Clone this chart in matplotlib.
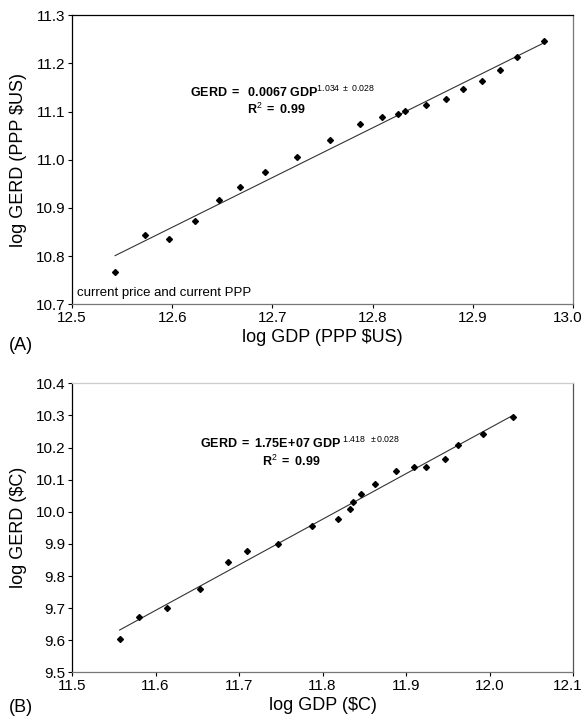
import numpy as np
import matplotlib
matplotlib.use("Agg")
import matplotlib.pyplot as plt
from matplotlib.transforms import ScaledTranslation

plt.rcParams['font.family'] = ['Liberation Sans', 'DejaVu Sans']
plt.rcParams['mathtext.fontset'] = 'custom'
plt.rcParams['mathtext.rm'] = 'Liberation Sans'
plt.rcParams['mathtext.bf'] = 'Liberation Sans:bold'
plt.rcParams['mathtext.it'] = 'Liberation Sans:italic'

# Panel A data: log GDP (PPP $US) vs log GERD (PPP $US)
gdp_a = [12.543, 12.573, 12.597, 12.623, 12.647, 12.668, 12.693, 12.725, 12.757, 12.787,
         12.809, 12.825, 12.832, 12.853, 12.873, 12.890, 12.909, 12.927, 12.944, 12.971]
gerd_a = [10.766, 10.844, 10.835, 10.872, 10.917, 10.943, 10.975, 11.006, 11.041, 11.075,
          11.089, 11.095, 11.102, 11.113, 11.127, 11.146, 11.163, 11.186, 11.213, 11.246]

# Panel B data: log GDP ($C) vs log GERD ($C)
gdp_b = [11.557, 11.580, 11.614, 11.653, 11.687, 11.710, 11.747, 11.788, 11.818, 11.833,
         11.837, 11.846, 11.863, 11.888, 11.909, 11.924, 11.947, 11.962, 11.992, 12.028]
gerd_b = [9.604, 9.673, 9.701, 9.760, 9.844, 9.877, 9.899, 9.957, 9.979, 10.010,
          10.032, 10.054, 10.087, 10.126, 10.139, 10.141, 10.165, 10.207, 10.243, 10.295]

xticks_a = [12.5, 12.6, 12.7, 12.8, 12.9, 13.0]
yticks_a = [10.7, 10.8, 10.9, 11.0, 11.1, 11.2, 11.3]
xticks_b = [11.5, 11.6, 11.7, 11.8, 11.9, 12.0, 12.1]
yticks_b = [9.5, 9.6, 9.7, 9.8, 9.9, 10.0, 10.1, 10.2, 10.3, 10.4]

fig = plt.figure(figsize=(5.85, 7.18), dpi=100)
axA = fig.add_axes([0.1231, 0.5762, 0.8564, 0.4025])
axB = fig.add_axes([0.1231, 0.0636, 0.8564, 0.4025])


def draw(ax, x, y, xt, yt, xlabel, ylabel):
    x = np.array(x); y = np.array(y)
    m, c = np.polyfit(x, y, 1)
    xs = np.array([x.min(), x.max()])
    ax.plot(xs, m * xs + c, color='#333333', lw=0.8)
    ax.plot(x, y, linestyle='none', marker='D', markersize=3, color='black')
    ax.set_xlim(xt[0], xt[-1])
    ax.set_ylim(yt[0], yt[-1])
    ax.set_xticks(xt)
    ax.set_yticks(yt)
    ax.set_xticklabels([f"{v:.1f}" for v in xt])
    ax.set_yticklabels([f"{v:.1f}" for v in yt])
    ax.tick_params(direction='out', length=3, width=0.8, labelsize=11, pad=2)
    ax.set_xlabel(xlabel, fontsize=13, labelpad=3)
    ax.set_ylabel(ylabel, fontsize=13, labelpad=6)
    last = ax.get_xticklabels()[-1]
    last.set_transform(last.get_transform() + ScaledTranslation(-0.05, 0, fig.dpi_scale_trans))


draw(axA, gdp_a, gerd_a, xticks_a, yticks_a, 'log GDP (PPP $US)', 'log GERD (PPP $US)')
draw(axB, gdp_b, gerd_b, xticks_b, yticks_b, 'log GDP ($C)', 'log GERD ($C)')

for sp, col in [('left', 'black'), ('top', 'black'), ('right', '#777777'), ('bottom', '#777777')]:
    axA.spines[sp].set_color(col)
for sp, col in [('left', 'black'), ('top', '#cccccc'), ('right', '#555555'), ('bottom', '#777777')]:
    axB.spines[sp].set_color(col)
for ax in (axA, axB):
    for sp in ax.spines.values():
        sp.set_linewidth(0.9)

# Annotations
fig.text(190 / 585, 1 - 92 / 718, r'$\mathbf{GERD\ =\ \ 0.0067\ GDP}^{1.034\ \pm\ 0.028}$',
         fontsize=9, ha='left', va='center')
fig.text(276 / 585, 1 - 109 / 718, r'$\mathbf{R}^{2}\mathbf{\ =\ 0.99}$',
         fontsize=9, ha='center', va='center')
axA.text(0.01, 0.04, 'current price and current PPP', transform=axA.transAxes,
         fontsize=9.5, ha='left', va='center')

fig.text(200 / 585, 1 - 443 / 718, r'$\mathbf{GERD\ =\ 1.75E\!+\!07\ GDP}^{\ 1.418\ \ \pm 0.028}$',
         fontsize=9, ha='left', va='center')
fig.text(291 / 585, 1 - 461 / 718, r'$\mathbf{R}^{2}\mathbf{\ =\ 0.99}$',
         fontsize=9, ha='center', va='center')

fig.text(9 / 585, 1 - 345 / 718, '(A)', fontsize=13, ha='left', va='center')
fig.text(9 / 585, 1 - 707 / 718, '(B)', fontsize=13, ha='left', va='center')

fig.savefig('out.png', dpi=100)
